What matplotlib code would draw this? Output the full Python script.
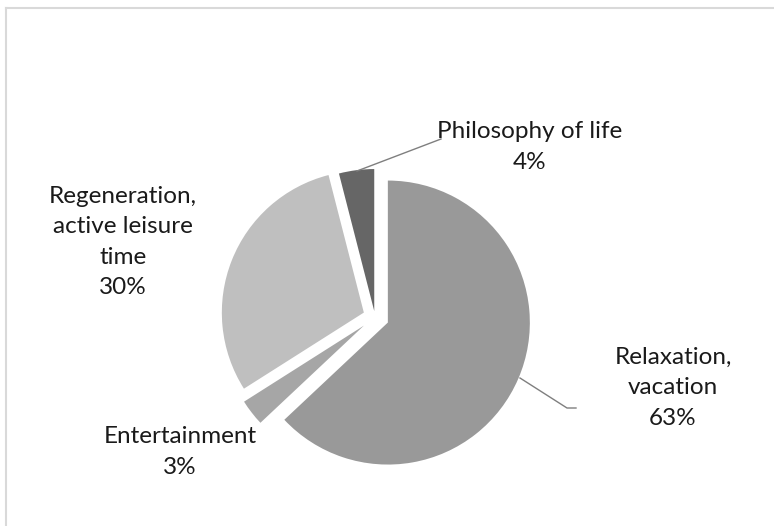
import numpy as np
import matplotlib
matplotlib.use('Agg')
import matplotlib.pyplot as plt
from matplotlib.lines import Line2D

# data
labels = ["Relaxation,\nvacation", "Entertainment", "Regeneration,\nactive leisure\ntime", "Philosophy of life"]
shares = [63, 3, 30, 4]
colors = ['#999999', '#a6a6a6', '#bfbfbf', '#666666']
explode = [14, 14, 12, 6]  # offsets in pixels (pie uses data units)

W, H = 774, 526
fig = plt.figure(figsize=(W / 100, H / 100), dpi=100)
ax = fig.add_axes([0, 0, 1, 1])

wedges, _ = ax.pie(shares, colors=colors, explode=explode, startangle=90,
                   counterclock=False, radius=142, center=(375, H - 317),
                   wedgeprops=dict(linewidth=0))
# pie() resets the limits, so set them afterwards
ax.set_xlim(0, W)
ax.set_ylim(0, H)
ax.set_aspect('equal')
ax.axis('off')

# labels with percentages
txt = dict(fontsize=17.5, family=['Lato', 'DejaVu Sans'], color='#1a1a1a',
           ha='center', va='center', linespacing=1.55)
pos = [(673, 388), (180, 452), (123, 242), (530, 147)]
for lab, s, (x, y) in zip(labels, shares, pos):
    ax.text(x, H - y, f"{lab}\n{s}%", **txt)

# leader lines
ax.plot([357, 441], [H - 171, H - 139], color='#7f7f7f', lw=1)
ax.plot([520, 567, 576], [H - 378, H - 408, H - 408], color='#7f7f7f', lw=1)

# chart area border (only top and left visible)
fig.add_artist(Line2D([6 / W, 1], [1 - 8 / H, 1 - 8 / H], color='#d9d9d9', lw=1.5))
fig.add_artist(Line2D([6 / W, 6 / W], [0, 1 - 8 / H], color='#d9d9d9', lw=1.5))

plt.savefig('out.png', dpi=100)
